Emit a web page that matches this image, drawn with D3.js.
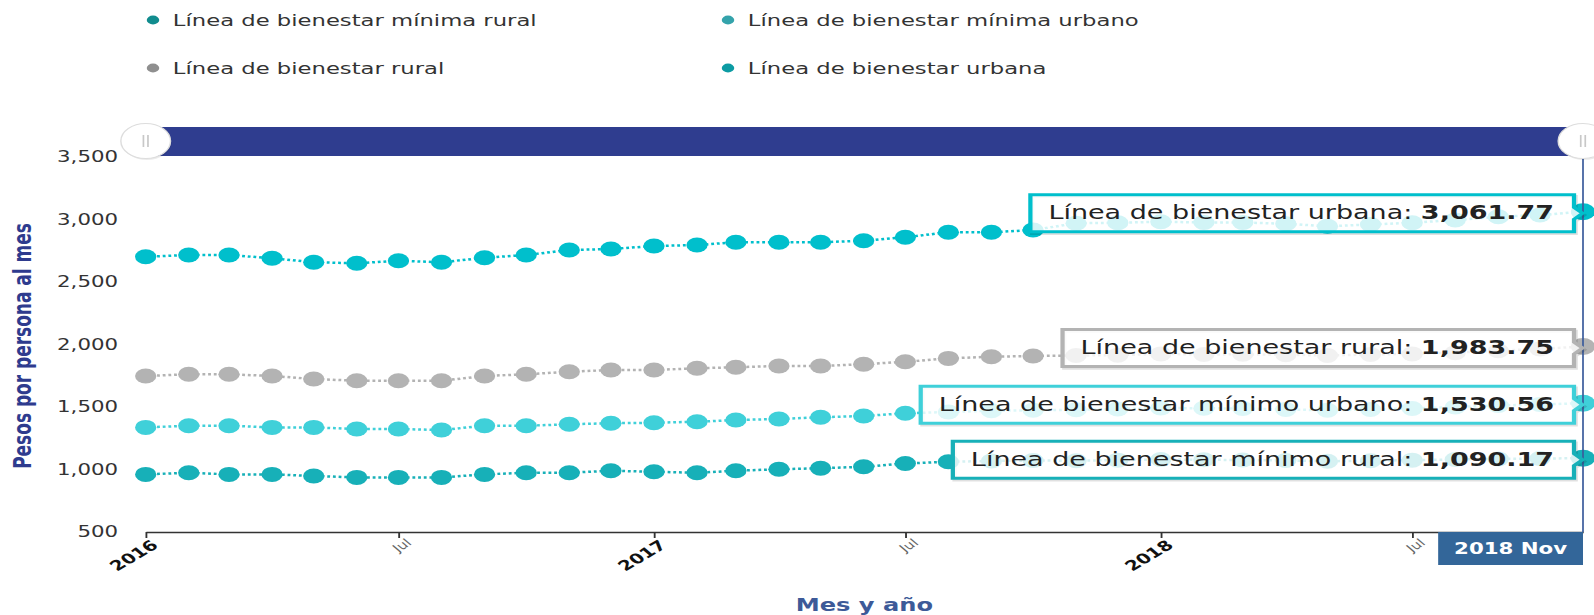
<!DOCTYPE html>
<html>
<head>
<meta charset="utf-8">
<script src="https://cdn.jsdelivr.net/npm/d3@7"></script>
<style>
  body { margin: 0; background: #fff; }
  svg { display: block; font-family: "DejaVu Sans", Verdana, sans-serif; }
</style>
</head>
<body>
<script>
// months shown, Jan 2016 .. Nov 2018
let months = d3.timeMonth.range(new Date(2016, 0, 1), new Date(2018, 11, 1));

// series values (pesos por persona al mes)
let urbana = [2702, 2716, 2716, 2690, 2658, 2650, 2670, 2658, 2694, 2716, 2756, 2764,
  2788, 2796, 2818, 2818, 2818, 2830, 2858, 2898, 2898, 2916, 2970, 2974,
  2982, 2976, 2976, 2966, 2946, 2960, 2974, 2996, 3022, 3036, 3061.77];
let rural = [1748, 1762, 1762, 1748, 1724, 1710, 1710, 1710, 1748, 1762, 1782, 1796,
  1796, 1810, 1818, 1828, 1828, 1842, 1862, 1889, 1902, 1908, 1912, 1915,
  1925, 1920, 1922, 1918, 1912, 1920, 1925, 1935, 1950, 1965, 1983.75];
let minUrbano = [1337, 1350, 1350, 1337, 1337, 1324, 1324, 1316, 1350, 1350, 1362, 1370,
  1374, 1382, 1396, 1404, 1418, 1428, 1450, 1460, 1470, 1474, 1478, 1484,
  1492, 1490, 1488, 1480, 1474, 1480, 1488, 1500, 1512, 1520, 1530.56];
let minRural = [961, 974, 961, 961, 948, 937, 937, 937, 961, 974, 974, 990,
  982, 974, 990, 1002, 1010, 1022, 1048, 1062, 1068, 1072, 1070, 1075,
  1080, 1078, 1076, 1072, 1066, 1070, 1075, 1080, 1085, 1088, 1090.17];

let legendNames = ["Línea de bienestar mínima rural", "Línea de bienestar mínima urbano",
  "Línea de bienestar rural", "Línea de bienestar urbana"];
let tooltipNames = ["Línea de bienestar mínimo rural", "Línea de bienestar mínimo urbano",
  "Línea de bienestar rural", "Línea de bienestar urbana"];

let xTickDates = [new Date(2016, 0, 1), new Date(2016, 6, 1), new Date(2017, 0, 1),
  new Date(2017, 6, 1), new Date(2018, 0, 1), new Date(2018, 6, 1)];
let xTickLabels = ["2016", "Jul", "2017", "Jul", "2018", "Jul"];
let yTicks = [500, 1000, 1500, 2000, 2500, 3000, 3500];

// colours
let lineColors = ["#17b0b8", "#3fd0d9", "#b3b3b3", "#00bfcc"];
let legendColors = ["#118c8e", "#34a3ab", "#8f8f8f", "#0c9ba3"];

let series = [minRural, minUrbano, rural, urbana];

// the source picture is stretched sideways, so draw in a narrow space and stretch it
const S = 1.42;
const W = 1594, H = 615, VW = W / S;

const svg = d3.select("body").append("svg")
  .attr("width", W)
  .attr("height", H)
  .attr("viewBox", "0 0 " + VW + " " + H)
  .attr("preserveAspectRatio", "none");

let x = d3.scaleTime()
  .domain([months[0], months[months.length - 1]])
  .range([145.7 / S, 1583 / S]);
let y = d3.scaleLinear().domain([500, 3500]).range([532, 157]);

//legend
let legendPos = [[153, 20], [728, 20], [153, 68], [728, 68]];
let legend = svg.append("g").attr("class", "legend");
legendNames.forEach((name, i) => {
  let g = legend.append("g")
    .attr("transform", "translate(" + legendPos[i][0] / S + "," + legendPos[i][1] + ")");
  g.append("circle").attr("r", 4.4).attr("fill", legendColors[i]);
  g.append("text")
    .attr("x", 14)
    .attr("dy", "0.35em")
    .attr("font-size", 16)
    .attr("fill", "#333")
    .text(name);
});

//y axis
let yAxis = d3.axisLeft(y).tickValues(yTicks).tickSize(0).tickPadding(19.5)
  .tickFormat(d3.format(","));
let yg = svg.append("g").attr("transform", "translate(" + x.range()[0] + ",0)").call(yAxis);
yg.select(".domain").remove();
yg.selectAll("text").attr("font-size", 15).attr("fill", "#333")
  .attr("font-family", "'DejaVu Sans', Verdana, sans-serif");

svg.append("text")
  .attr("transform", "translate(21.5,346) rotate(-90)")
  .attr("text-anchor", "middle")
  .attr("font-size", 17)
  .attr("font-weight", "bold")
  .attr("fill", "#2e3b8e")
  .text("Pesos por persona al mes");

//x axis
let xAxis = d3.axisBottom(x).tickValues(xTickDates).tickSize(6).tickSizeOuter(0)
  .tickFormat((d, i) => xTickLabels[i]);
let xg = svg.append("g").attr("transform", "translate(0,532)").call(xAxis);
xg.select(".domain").attr("stroke", "#333").attr("stroke-width", 1.5);
xg.selectAll(".tick line").attr("stroke", "#333").attr("stroke-width", 1.3);
xg.selectAll(".tick text")
  .attr("x", 0).attr("y", 0).attr("dy", "0.35em")
  .attr("text-anchor", "end")
  .attr("font-family", "'DejaVu Sans', Verdana, sans-serif")
  .attr("transform", (d, i) => xTickLabels[i] == "Jul" ? "translate(7,9) rotate(-40)" : "translate(6,11) rotate(-40)")
  .attr("font-size", (d, i) => xTickLabels[i] == "Jul" ? 11 : 14)
  .attr("font-weight", (d, i) => xTickLabels[i] == "Jul" ? "normal" : "bold")
  .attr("fill", (d, i) => xTickLabels[i] == "Jul" ? "#666" : "#111");

svg.append("text")
  .attr("x", (x.range()[0] + x.range()[1]) / 2)
  .attr("y", 611)
  .attr("text-anchor", "middle")
  .attr("font-size", 17)
  .attr("font-weight", "bold")
  .attr("fill", "#3d5a98")
  .text("Mes y año");

//lines and markers
let line = d3.line().x((d, i) => x(months[i])).y(d => y(d));
series.forEach((values, s) => {
  svg.append("path")
    .datum(values)
    .attr("d", line)
    .attr("fill", "none")
    .attr("stroke", lineColors[s])
    .attr("stroke-width", 2.5)
    .attr("stroke-dasharray", "2,2");
  svg.append("g").selectAll("circle")
    .data(values)
    .enter()
    .append("circle")
    .attr("cx", (d, i) => x(months[i]))
    .attr("cy", d => y(d))
    .attr("r", (d, i) => i == values.length - 1 ? 8.5 : 7.5)
    .attr("fill", lineColors[s]);
});

//crosshair on last month
let last = months[months.length - 1];
svg.append("line")
  .attr("x1", x(last)).attr("x2", x(last))
  .attr("y1", 127).attr("y2", 532)
  .attr("stroke", "#3b5c9c")
  .attr("stroke-width", 1.2);

//split tooltips
let textRight = 1554 / S;
let boxRight = 1574 / S;
let tipFmt = d3.format(",.2f");
series.forEach((values, s) => {
  let v = values[values.length - 1];
  let cy = y(v) + 1.5;
  let g = svg.append("g");
  let shadow = g.append("path");
  let box = g.append("path");
  let t = g.append("text")
    .attr("x", textRight)
    .attr("y", cy + 6)
    .attr("text-anchor", "end")
    .attr("font-size", 19)
    .attr("fill", "#222");
  t.append("tspan").text(tooltipNames[s] + ": ");
  t.append("tspan").attr("font-weight", "bold").text(tipFmt(v));
  let x0 = textRight - t.node().getComputedTextLength() - 12.7;
  let y0 = cy - 18.5, y1 = cy + 18.5, a = 6;
  let d = "M" + x0 + "," + y0 + "H" + boxRight + "V" + (cy - a) + "L" + (boxRight + a) + "," + cy +
    "L" + boxRight + "," + (cy + a) + "V" + y1 + "H" + x0 + "Z";
  shadow.attr("d", d).attr("transform", "translate(1.2,1.8)")
    .attr("fill", "none").attr("stroke", "#000").attr("stroke-opacity", 0.12).attr("stroke-width", 3);
  box.attr("d", d).attr("fill", "#fff").attr("fill-opacity", 0.82)
    .attr("stroke", lineColors[s]).attr("stroke-width", 3);
});

//navigator bar
svg.append("rect")
  .attr("x", x.range()[0]).attr("y", 127)
  .attr("width", x.range()[1] - x.range()[0]).attr("height", 29)
  .attr("fill", "#2f3d8f");
x.range().forEach(hx => {
  let h = svg.append("g").attr("transform", "translate(" + hx + ",141)");
  h.append("circle").attr("r", 17.5).attr("cx", 0.8).attr("cy", 1.5)
    .attr("fill", "#000").attr("opacity", 0.08);
  h.append("circle").attr("r", 17.5).attr("fill", "#fff").attr("stroke", "#ddd");
  [-1.6, 1.6].forEach(gx => {
    h.append("line").attr("x1", gx).attr("x2", gx).attr("y1", -6).attr("y2", 6)
      .attr("stroke", "#c8c8c8").attr("stroke-width", 1.2);
  });
});

//crosshair label
let lblW = 102;
svg.append("rect")
  .attr("x", x(last) - lblW).attr("y", 532)
  .attr("width", lblW).attr("height", 33)
  .attr("fill", "#336699");
svg.append("text")
  .attr("x", x(last) - lblW / 2)
  .attr("y", 554)
  .attr("text-anchor", "middle")
  .attr("font-size", 15)
  .attr("font-weight", 600)
  .attr("fill", "#fff")
  .text(d3.timeFormat("%Y")(last) + " Nov");
</script>
</body>
</html>
